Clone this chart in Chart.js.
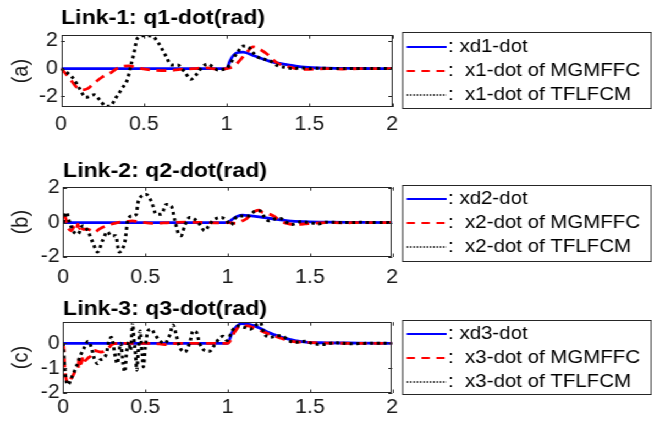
<!DOCTYPE html>
<html>
<head>
<meta charset="utf-8">
<script src="https://cdn.jsdelivr.net/npm/chart.js@4.4.0/dist/chart.umd.min.js"></script>
<style>
  html, body { margin: 0; padding: 0; background: #fff; overflow: hidden; }
  /* the source figure is a little wider than tall fonts allow, so stretch it */
  #fig { position: absolute; left: 0; top: 0; width: 593px; height: 426px; transform: scaleX(1.1); transform-origin: 0 0; }
  #fig canvas { position: absolute; left: 0; }
</style>
</head>
<body>
<div id="fig">
  <canvas id="c1" width="593" height="140" style="top:0px"></canvas>
  <canvas id="c2" width="593" height="150" style="top:140px"></canvas>
  <canvas id="c3" width="593" height="136" style="top:290px"></canvas>
</div>
<script>
// shared time axis
const xTickLabels = ['0', '0.5', '1', '1.5', '2'];

// Link-1
const q1Labels = [': xd1-dot', ':  x1-dot of MGMFFC', ':  x1-dot of TFLFCM'];
const q1RefT = [0, 1.0, 1.02, 1.04, 1.07, 1.1, 1.17, 1.27, 1.37, 1.47, 1.6, 1.8, 2.0];
const q1RefV = [0, 0, 0.55, 0.95, 1.18, 1.2, 0.91, 0.5, 0.27, 0.1, 0.03, 0.01, 0];
const q1MgT = [0, 0.03, 0.06, 0.09, 0.12, 0.16, 0.2, 0.25, 0.3, 0.35, 0.41, 0.46, 0.55, 0.65, 0.72, 0.8, 0.88, 0.95, 1.0,
  1.04, 1.08, 1.12, 1.16, 1.2, 1.25, 1.3, 1.35, 1.4, 1.45, 1.5, 1.6, 1.7, 1.8, 2.0];
const q1MgV = [0, -0.4, -0.85, -1.3, -1.55, -1.45, -1.05, -0.6, -0.3, 0.1, 0.2, 0.05, -0.1, -0.15, -0.05, 0, 0.05, -0.05, 0,
  0.15, 0.6, 1.15, 1.58, 1.4, 1.0, 0.45, 0.2, 0.05, -0.05, -0.05, 0, -0.03, 0, 0];
const q1TfT = [0, 0.04, 0.08, 0.11, 0.15, 0.2, 0.24, 0.27, 0.3, 0.33, 0.37, 0.4, 0.42, 0.44, 0.46, 0.5, 0.55, 0.59, 0.635, 0.665,
  0.705, 0.745, 0.785, 0.815, 0.855, 0.885, 0.915, 0.946, 0.986, 1.0, 1.03, 1.06, 1.1, 1.13, 1.16, 1.19, 1.23, 1.27, 1.31, 1.35,
  1.4, 1.45, 1.5, 1.55, 1.6, 1.7, 1.8, 1.9, 2.0];
const q1TfV = [0, -0.33, -0.81, -1.41, -2.08, -1.89, -2.37, -2.73, -2.68, -2.13, -1.41, -0.81, 0.16, 1.1, 2.18, 2.38, 2.35, 1.82, 0.87, 0.27,
  0.27, -0.22, -0.77, -0.46, 0.15, 0.33, 0.15, -0.1, -0.05, 0, 0.51, 1.1, 1.63, 1.58, 1.15, 0.82, 0.67, 0.51, 0.2, 0.1,
  0, 0.05, 0, 0.03, 0.02, 0, 0.01, 0, 0];

// Link-2
const q2Labels = [': xd2-dot', ':  x2-dot of MGMFFC', ':  x2-dot of TFLFCM'];
const q2RefT = [0, 1.0, 1.03, 1.06, 1.09, 1.13, 1.21, 1.29, 1.37, 1.47, 1.6, 1.8, 2.0];
const q2RefV = [0, 0, 0.2, 0.36, 0.43, 0.4, 0.3, 0.19, 0.1, 0.05, 0.02, 0.01, 0];
const q2MgT = [0, 0.01, 0.03, 0.05, 0.07, 0.08, 0.09, 0.1, 0.11, 0.12, 0.14, 0.17, 0.19, 0.22, 0.26, 0.29, 0.33, 0.38, 0.42, 0.46,
  0.55, 0.65, 0.75, 0.85, 0.95, 1.0, 1.05, 1.09, 1.11, 1.14, 1.17, 1.19, 1.21, 1.25, 1.28, 1.32, 1.36, 1.39, 1.43, 1.47,
  1.51, 1.6, 1.7, 1.8, 2.0];
const q2MgV = [0.3, 0.38, -0.29, -0.48, -0.2, -0.4, -0.1, -0.35, -0.15, -0.4, -0.38, -0.45, -0.57, -0.38, -0.2, -0.1, 0, 0.05, 0.1, 0.05,
  -0.05, 0, 0.02, 0, -0.02, 0, -0.05, 0.1, 0.19, 0.45, 0.67, 0.72, 0.6, 0.5, 0.38, 0.1, -0.05, -0.1, -0.1, -0.08,
  -0.05, 0, -0.02, 0, 0];
const q2TfT = [0, 0.006, 0.02, 0.04, 0.06, 0.09, 0.12, 0.15, 0.18, 0.21, 0.24, 0.27, 0.29, 0.32, 0.34, 0.375, 0.395, 0.42, 0.445, 0.455,
  0.475, 0.506, 0.536, 0.567, 0.597, 0.627, 0.658, 0.678, 0.698, 0.718, 0.739, 0.769, 0.8, 0.83, 0.86, 0.891, 0.921, 0.962, 0.99, 1.02,
  1.05, 1.09, 1.128, 1.168, 1.198, 1.219, 1.25, 1.28, 1.32, 1.36, 1.39, 1.442, 1.49, 1.553, 1.6, 1.7, 1.8, 1.9, 2.0];
const q2TfV = [0, 0.19, 0.6, 0, -0.48, -0.67, -0.19, -0.48, -1.14, -1.71, -1.05, -0.53, -0.76, -0.76, -1.71, -1.14, 0.19, 0.38, 0.48, 1.14,
  1.52, 1.62, 1.24, 0.48, 0.48, 1.05, 0.95, 0.19, -0.57, -0.76, -0.19, 0.29, 0.19, -0.1, -0.48, -0.1, 0.19, 0.29, 0.15, -0.15,
  0.29, 0.38, 0.38, 0.67, 0.67, 0.38, 0.1, 0.19, 0.23, 0, -0.11, 0.04, 0, -0.08, 0.02, 0, 0.01, 0, 0];

// Link-3
const q3Labels = [': xd3-dot', ':  x3-dot of MGMFFC', ':  x3-dot of TFLFCM'];
const q3RefT = [0, 1.0, 1.027, 1.057, 1.087, 1.128, 1.19, 1.25, 1.33, 1.41, 1.49, 1.6, 1.8, 2.0];
const q3RefV = [0, 0, 0.43, 0.7, 0.79, 0.76, 0.63, 0.43, 0.24, 0.11, 0.04, 0.02, 0.01, 0];
const q3MgT = [0, 0.005, 0.01, 0.02, 0.034, 0.05, 0.06, 0.071, 0.08, 0.09, 0.1, 0.11, 0.122, 0.135, 0.15, 0.172, 0.19, 0.23, 0.26, 0.28,
  0.3, 0.35, 0.45, 0.55, 0.62, 0.7, 0.8, 0.9, 1.0, 1.047, 1.077, 1.118, 1.158, 1.229, 1.31, 1.39, 1.47, 1.6, 1.8, 2.0];
const q3MgV = [0, -0.26, -0.95, -1.47, -1.6, -1.41, -1.3, -1.15, -1.0, -1.02, -0.55, -0.82, -0.49, -0.7, -0.6, -0.49, -0.29, -0.35, -0.29, -0.16,
  -0.04, 0, 0, 0, -0.05, 0, 0, 0, 0, 0.5, 0.7, 0.7, 0.63, 0.43, 0.24, 0.08, 0.04, 0.01, 0, 0];
const q3TfT = [0, 0.01, 0.02, 0.03, 0.05, 0.08, 0.11, 0.13, 0.152, 0.172, 0.19, 0.21, 0.223, 0.243, 0.263, 0.277, 0.294, 0.303, 0.314, 0.33,
  0.338, 0.35, 0.365, 0.375, 0.385, 0.399, 0.41, 0.423, 0.43, 0.44, 0.448, 0.456, 0.468, 0.48, 0.488, 0.5, 0.516, 0.537, 0.557, 0.587,
  0.618, 0.648, 0.668, 0.688, 0.709, 0.739, 0.769, 0.79, 0.81, 0.83, 0.86, 0.891, 0.92, 0.95, 0.972, 0.997, 1.027, 1.067, 1.108, 1.138,
  1.178, 1.2, 1.219, 1.26, 1.3, 1.33, 1.37, 1.41, 1.472, 1.51, 1.57, 1.65, 1.75, 1.85, 2.0];
const q3TfV = [0, -0.95, -1.54, -1.67, -1.41, -0.95, -0.42, -0.16, 0.08, -0.16, -0.62, -0.82, -0.68, -0.62, -0.42, 0.04, 0.24, 0.04, -0.42, -0.82,
  -0.49, 0, -0.82, -1.15, -0.42, 0.04, -0.29, 0.83, 0.24, -0.42, -1.08, -0.42, 0.5, -0.42, -0.95, -0.16, 0.5, 0.57, 0.37, 0.11,
  0, 0.33, 0.74, 0.33, -0.16, -0.35, 0, 0.5, 0.45, 0, -0.29, -0.32, -0.07, 0.2, 0.28, 0.11, 0.5, 0.7, 0.63, 0.57,
  0.76, 0.83, 0.43, 0.24, 0.3, 0.3, 0.11, 0.04, 0.08, 0, -0.05, 0.02, -0.02, 0, 0];

Chart.defaults.font.family = "'Liberation Sans', Arial, sans-serif";
Chart.defaults.color = '#1a1a1a';

const FIG_W = 593;
const PLOT_RIGHT = 356.5;
const LEG_LEFT = 365.5, LEG_RIGHT = 591.5;

function pts(t, v) {
  return t.map((x, i) => ({ x: x, y: v[i] }));
}

// box, inward ticks and the boxed legend, MATLAB style
const matlabBox = {
  id: 'matlabBox',
  afterDatasetsDraw(chart, args, opts) {
    const { ctx, chartArea: a, scales } = chart;
    ctx.save();
    ctx.strokeStyle = '#262626';
    ctx.lineWidth = 1;
    ctx.setLineDash([]);
    ctx.strokeRect(Math.round(a.left) + 0.5, Math.round(a.top) + 0.5,
      Math.round(a.right - a.left) - 1, Math.round(a.bottom - a.top) - 1);
    const len = 3.5;
    ctx.beginPath();
    scales.x.ticks.forEach(tk => {
      const px = Math.round(scales.x.getPixelForValue(tk.value)) + 0.5;
      ctx.moveTo(px, a.bottom); ctx.lineTo(px, a.bottom - len);
      ctx.moveTo(px, a.top); ctx.lineTo(px, a.top + len);
    });
    scales.y.ticks.forEach(tk => {
      const py = Math.round(scales.y.getPixelForValue(tk.value)) + 0.5;
      ctx.moveTo(a.left, py); ctx.lineTo(a.left + len, py);
      ctx.moveTo(a.right, py); ctx.lineTo(a.right - len, py);
    });
    ctx.stroke();

    // legend
    const top = opts.top, bottom = opts.bottom;
    ctx.strokeRect(LEG_LEFT + 0.5, top + 0.5, LEG_RIGHT - LEG_LEFT, bottom - top);
    chart.data.datasets.forEach((ds, i) => {
      const y = top + opts.rowStart + i * 24;
      ctx.strokeStyle = ds.borderColor;
      ctx.lineWidth = ds.legendWidth;
      ctx.setLineDash(ds.legendDash);
      ctx.beginPath();
      ctx.moveTo(369.7, y);
      ctx.lineTo(406, y);
      ctx.stroke();
      ctx.setLineDash([]);
      ctx.fillStyle = '#000';
      ctx.font = "18.6px 'Liberation Sans', Arial, sans-serif";
      ctx.textBaseline = 'middle';
      ctx.textAlign = 'left';
      ctx.fillText(ds.label, 407.3, y);
    });
    ctx.restore();
  }
};

function makeChart(id, cfg) {
  const common = { pointRadius: 0, fill: false, cubicInterpolationMode: 'monotone' };
  return new Chart(document.getElementById(id), {
    type: 'line',
    data: {
      datasets: [
        Object.assign({ label: cfg.labels[0], data: pts(cfg.refT, cfg.refV), borderColor: '#0000ff',
          borderWidth: 2.8, order: 3, legendDash: [], legendWidth: 2 }, common),
        Object.assign({ label: cfg.labels[1], data: pts(cfg.mgT, cfg.mgV), borderColor: '#ff0000',
          borderWidth: 2.8, borderDash: [9, 6], order: 2, legendDash: [7.5, 6], legendWidth: 2 }, common),
        Object.assign({ label: cfg.labels[2], data: pts(cfg.tfT, cfg.tfV), borderColor: '#000000',
          borderWidth: 3, borderDash: [2.8, 3.4], order: 1, legendDash: [1.5, 1.5], legendWidth: 1.5 }, common)
      ]
    },
    options: {
      responsive: false,
      animation: false,
      events: [],
      layout: { autoPadding: false, padding: { left: 0, top: 0, bottom: 0, right: FIG_W - PLOT_RIGHT } },
      plugins: {
        legend: { display: false },
        tooltip: { enabled: false },
        title: {
          display: true, text: cfg.title, align: 'start', fullSize: false, color: '#000',
          font: { size: 21, weight: 'bold' }, padding: cfg.titlePad
        },
        matlabBox: { top: cfg.legTop, bottom: cfg.legBottom, rowStart: cfg.legRow }
      },
      scales: {
        x: {
          type: 'linear', min: 0, max: 2,
          grid: { display: false, drawTicks: false }, border: { display: false },
          ticks: { stepSize: 0.5, padding: cfg.xPad, font: { size: 19.5 }, maxRotation: 0,
            callback: (v, i) => xTickLabels[i] },
          afterFit: s => { s.height = 33; }
        },
        y: {
          min: cfg.yMin, max: cfg.yMax,
          grid: { display: false, drawTicks: false }, border: { display: false },
          ticks: { stepSize: cfg.yStep, includeBounds: false, padding: 3, font: { size: 19.5 } },
          title: { display: true, text: cfg.yTitle, font: { size: 20 }, padding: { top: 7, bottom: 0 } },
          afterFit: s => { s.width = cfg.plotLeft; }
        }
      }
    },
    plugins: [matlabBox]
  });
}

makeChart('c1', {
  title: 'Link-1: q1-dot(rad)', yTitle: '(a)', labels: q1Labels,
  refT: q1RefT, refV: q1RefV, mgT: q1MgT, mgV: q1MgV, tfT: q1TfT, tfV: q1TfV,
  yMin: -2.78, yMax: 2.42, yStep: 2, plotLeft: 55.5,
  titlePad: { top: 6, bottom: 4 }, xPad: 6, legTop: 32, legBottom: 108, legRow: 15
});
makeChart('c2', {
  title: 'Link-2: q2-dot(rad)', yTitle: '(b)', labels: q2Labels,
  refT: q2RefT, refV: q2RefV, mgT: q2MgT, mgV: q2MgV, tfT: q2TfT, tfV: q2TfV,
  yMin: -2, yMax: 2.05, yStep: 2, plotLeft: 57.3,
  titlePad: { top: 19, bottom: 3 }, xPad: 9, legTop: 45, legBottom: 121, legRow: 14
});
makeChart('c3', {
  title: 'Link-3: q3-dot(rad)', yTitle: '(c)', labels: q3Labels,
  refT: q3RefT, refV: q3RefV, mgT: q3MgT, mgV: q3MgV, tfT: q3TfT, tfV: q3TfV,
  yMin: -2, yMax: 0.85, yStep: 1, plotLeft: 57.3,
  titlePad: { top: 7, bottom: 0 }, xPad: 3, legTop: 30, legBottom: 104, legRow: 14
});
</script>
</body>
</html>
